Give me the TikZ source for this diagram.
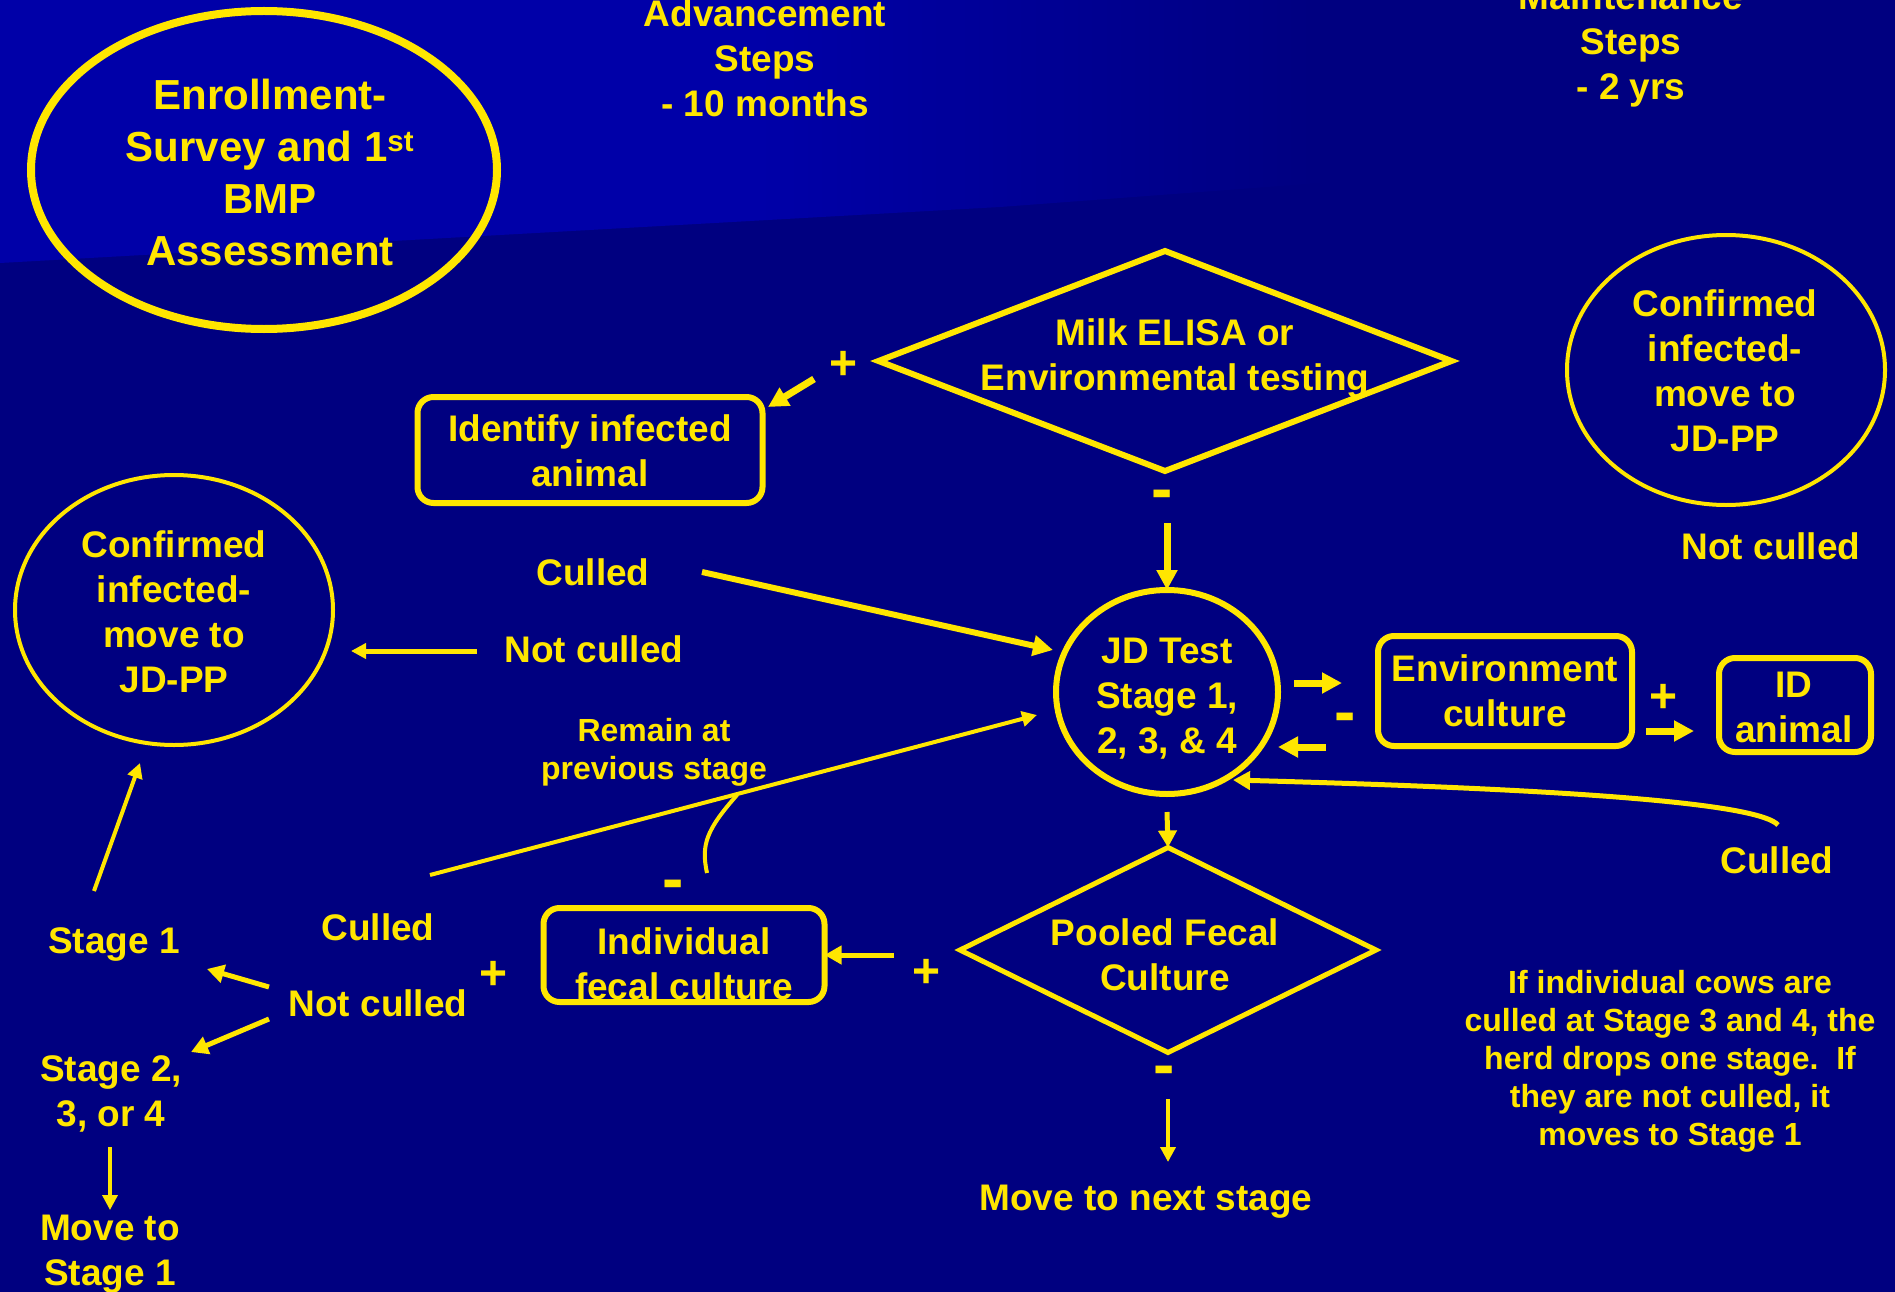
\documentclass[tikz,border=0pt]{standalone}
\usepackage{fontspec}
\setmainfont{Liberation Sans}
\usetikzlibrary{arrows.meta,shapes.geometric}
\definecolor{navy}{RGB}{0,0,128}
\definecolor{topblue}{RGB}{0,0,168}
\definecolor{ylw}{RGB}{255,230,0}
\pgfdeclarehorizontalshading{bgshade}{100bp}{color(0bp)=(topblue); color(45bp)=(topblue); color(60bp)=(navy); color(100bp)=(navy)}
\tikzset{
  txt/.style={text=ylw, font=\fontsize{37}{45}\selectfont\bfseries, align=center, inner sep=0pt},
  smalltxt/.style={text=ylw, font=\fontsize{32}{38}\selectfont\bfseries, align=center, inner sep=0pt},
  plussign/.style={text=ylw, font=\fontsize{48}{48}\selectfont\bfseries, inner sep=0pt},
  minussign/.style={text=ylw, font=\fontsize{64}{64}\selectfont\bfseries, inner sep=0pt},
  oval/.style={ellipse, draw=ylw, inner sep=0pt, outer sep=0pt},
  rbox/.style={rectangle, rounded corners=16pt, draw=ylw, line width=6pt, inner sep=0pt, outer sep=0pt},
  dia/.style={diamond, draw=ylw, inner sep=0pt, outer sep=0pt},
  arrA/.style={draw=ylw, line width=7pt, -{Triangle[length=20pt,width=20pt]}},
  arrB/.style={draw=ylw, line width=5pt, -{Triangle[length=17pt,width=18pt]}},
  arrC/.style={draw=ylw, line width=4pt, -{Triangle[length=15pt,width=15pt]}},
  plainline/.style={draw=ylw, line width=4pt}
}
\begin{document}
\begin{tikzpicture}[x=1pt,y=-1pt]
\useasboundingbox (0,0) rectangle (1895,1292);
\fill[navy] (0,0) rectangle (1895,1292);
\shade[shading=bgshade] (0,0) -- (1895,0) -- (1895,140) -- (1000,207) -- (0,263) -- cycle;

% ---- top titles
\node[oval, line width=8pt, minimum width=466pt, minimum height=318pt] (enroll) at (264,170) {};
\node[txt, font=\fontsize{42}{52}\selectfont\bfseries] (enrolltxt) at (270,172) {Enrollment-\\Survey and 1\textsuperscript{st}\\BMP\\Assessment};
\node[txt] (adv) at (765,58) {Advancement\\Steps\\- 10 months};
\node[txt] (maint) at (1631,45) {Maintenance\\Steps\\- 2 yrs};

% ---- milk diamond
\node[dia, line width=6pt, minimum width=573pt, minimum height=220pt] (milk) at (1165,361) {};
\node[txt] (milktxt) at (1175,359) {Milk ELISA or\\Environmental testing};
\node[plussign] (p1) at (844,365) {+};
\node[rbox, minimum width=345pt, minimum height=106pt] (ident) at (590,450) {};
\node[txt] (identtxt) at (590,451) {Identify infected\\animal};
\node[minussign] (m1) at (1162,500) {-};

% ---- JD test
\node[oval, line width=6pt, minimum width=222pt, minimum height=204pt] (jd) at (1167,692) {};
\node[txt] (jdtxt) at (1167,699) {JD Test\\Stage 1,\\2, 3, \& 4};

% ---- right side
\node[oval, line width=4pt, minimum width=318pt, minimum height=270pt] (confR) at (1726,370) {};
\node[txt] (confRtxt) at (1725,371) {Confirmed\\infected-\\move to\\JD-PP};
\node[txt] (notculledR) at (1771,546) {Not culled};
\node[rbox, minimum width=254pt, minimum height=110pt] (env) at (1505,691) {};
\node[txt] (envtxt) at (1505,691) {Environment\\culture};
\node[rbox, minimum width=152pt, minimum height=94pt] (idbox) at (1795,705) {};
\node[txt] (idtxt) at (1794,707) {ID\\animal};
\node[minussign] (m2) at (1345,723) {-};
\node[plussign] (p2) at (1663,698) {+};
\node[txt] (culledR) at (1777,860) {Culled};
\node[smalltxt] (note) at (1670,1061) {If individual cows are\\culled at Stage 3 and 4, the\\herd drops one stage.\ \ If\\they are not culled, it\\moves to Stage 1};

% ---- left side
\node[oval, line width=4pt, minimum width=318pt, minimum height=270pt] (confL) at (174,610) {};
\node[txt] (confLtxt) at (174,612) {Confirmed\\infected-\\move to\\JD-PP};
\node[txt] (culled1) at (593,572) {Culled};
\node[txt] (notculled1) at (594,649) {Not culled};
\node[smalltxt] (remain) at (654,752) {Remain at\\previous stage};

% ---- pooled fecal
\node[dia, line width=5pt, minimum width=416pt, minimum height=205pt] (pooled) at (1168,950) {};
\node[txt] (pooledtxt) at (1165,955) {Pooled Fecal\\Culture};
\node[minussign] (m3) at (1164,1076) {-};
\node[txt] (nextstage) at (1146,1202) {Move to next stage};
\node[plussign] (p3) at (927,973) {+};
\node[rbox, minimum width=281pt, minimum height=94pt] (indiv) at (684,955) {};
\node[txt] (indivtxt) at (684,964) {Individual\\fecal culture};
\node[minussign] (m4) at (673,890) {-};
\node[plussign] (p4) at (494,975) {+};
\node[txt] (culled2) at (378,927) {Culled};
\node[txt] (notculled2) at (378,1003) {Not culled};
\node[txt] (stage1) at (114,944) {Stage 1};
\node[txt] (stage234) at (111,1094) {Stage 2,\\3, or 4};
\node[txt] (moveto) at (110,1254) {Move to\\Stage 1};

% ---- connector end points
\coordinate (a1s) at (814,379);  \coordinate (a1e) at (768,407);
\coordinate (m1a) at (1167,523);
\coordinate (c1s) at (702,572);  \coordinate (c1e) at (1053,650);
\coordinate (n1s) at (477,651);  \coordinate (n1e) at (351,651);
\coordinate (r1s) at (430,875);  \coordinate (r1e) at (1037,715);
\coordinate (k0) at (707,873);   \coordinate (k1) at (737,795);
\coordinate (jdb) at (1167,812);
\coordinate (m3a) at (1168,1099); \coordinate (m3b) at (1168,1162);
\coordinate (pl) at (894,955);
\coordinate (nc1) at (269,987);  \coordinate (s1e) at (207,969);
\coordinate (nc2) at (269,1019); \coordinate (s2e) at (191,1052);
\coordinate (s1s) at (94,891);   \coordinate (s1c) at (140,763);
\coordinate (s2s) at (110,1147); \coordinate (s2m) at (110,1210);
\coordinate (e1s) at (1294,683); \coordinate (e1e) at (1342,683);
\coordinate (e2s) at (1326,747); \coordinate (e2e) at (1278,747);
\coordinate (i1s) at (1646,731); \coordinate (i1e) at (1694,731);
\coordinate (cr0) at (1778,825); \coordinate (cr1) at (1233,780);

% ---- connectors
\draw[arrA] (a1s) -- (a1e);
\draw[arrA] (m1a) -- (jd.north);
\draw[arrA, line width=6pt] (c1s) -- (c1e);
\draw[arrC, line width=5pt] (n1s) -- (n1e);
\draw[arrC] (r1s) -- (r1e);
\draw[plainline] (k0) .. controls (701,845) and (706,830) .. (k1);
\draw[arrB] (jdb) -- (pooled.north);
\draw[arrC] (m3a) -- (m3b);
\draw[arrB] (pl) -- (indiv.east);
\draw[arrB] (nc1) -- (s1e);
\draw[arrB] (nc2) -- (s2e);
\draw[arrC] (s1s) -- (s1c);
\draw[arrC, line width=3.5pt] (s2s) -- (s2m);
\draw[arrA] (e1s) -- (e1e);
\draw[arrA] (e2s) -- (e2e);
\draw[arrA] (i1s) -- (i1e);
\draw[arrB] (cr0) .. controls (1760,805) and (1600,790) .. (cr1);
\end{tikzpicture}
\end{document}
